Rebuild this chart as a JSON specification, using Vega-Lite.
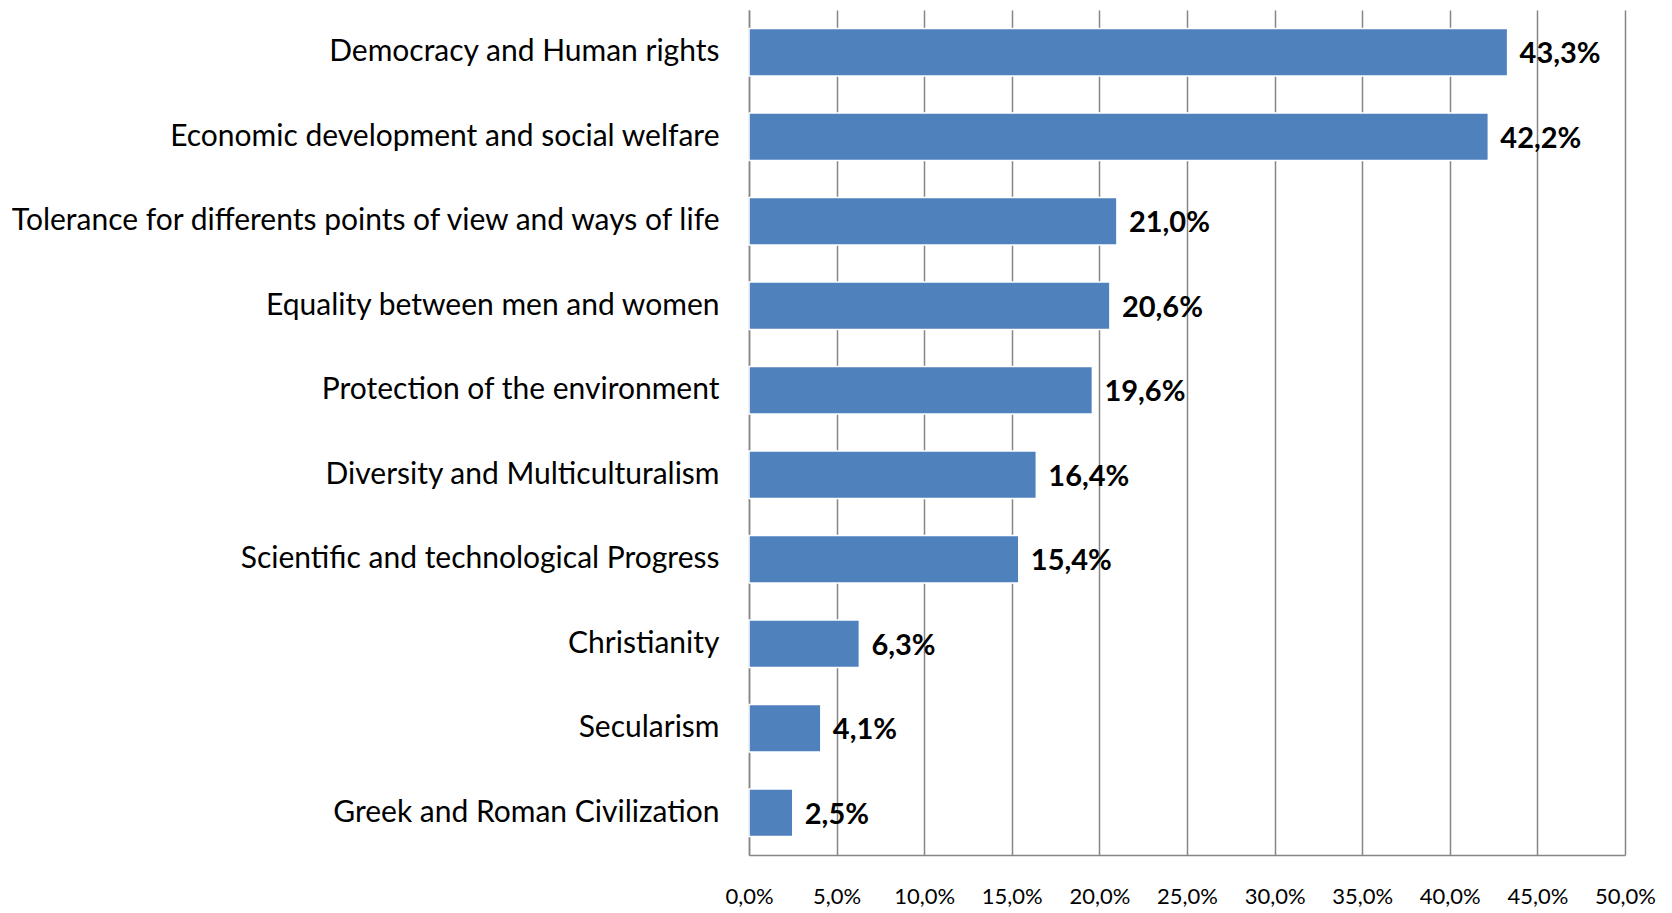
{
  "$schema": "https://vega.github.io/schema/vega-lite/v6.json",
  "width": 876,
  "height": 845,
  "autosize": {"type": "none"},
  "padding": {"left": 749, "top": 10, "right": 47, "bottom": 58},
  "background": "white",
  "config": {
    "locale": {"number": {"decimal": ",", "thousands": ".", "grouping": [3], "currency": ["", "€"]}},
    "view": {"stroke": null},
    "font": "Lato"
  },
  "data": {
    "values": [
      {"category": "Democracy and Human rights", "value": 0.433},
      {"category": "Economic development and social welfare", "value": 0.422},
      {"category": "Tolerance for differents points of view and ways of life", "value": 0.21},
      {"category": "Equality between men and women", "value": 0.206},
      {"category": "Protection of the environment", "value": 0.196},
      {"category": "Diversity and Multiculturalism", "value": 0.164},
      {"category": "Scientific and technological Progress", "value": 0.154},
      {"category": "Christianity", "value": 0.063},
      {"category": "Secularism", "value": 0.041},
      {"category": "Greek and Roman Civilization", "value": 0.025}
    ]
  },
  "encoding": {
    "y": {
      "field": "category",
      "type": "nominal",
      "sort": null,
      "scale": {"paddingInner": 0.44, "paddingOuter": 0.22},
      "axis": {
        "title": null,
        "domain": true,
        "domainColor": "#868686",
        "domainWidth": 1.5,
        "ticks": false,
        "labelPadding": 30,
        "labelLimit": 0,
        "labelFontSize": 30,
        "labelColor": "#000000",
        "labelFont": "Lato"
      }
    },
    "x": {
      "field": "value",
      "type": "quantitative",
      "scale": {"domain": [0, 0.5], "nice": false},
      "axis": {
        "title": null,
        "format": ".1%",
        "values": [0, 0.05, 0.1, 0.15, 0.2, 0.25, 0.3, 0.35, 0.4, 0.45, 0.5],
        "grid": true,
        "gridColor": "#868686",
        "gridWidth": 1.5,
        "domain": true,
        "domainColor": "#868686",
        "domainWidth": 1.5,
        "ticks": false,
        "labelPadding": 31,
        "labelFontSize": 22,
        "labelColor": "#000000",
        "labelFont": "Lato",
        "labelFlush": false
      }
    }
  },
  "layer": [
    {
      "mark": {"type": "bar", "color": "#4F81BD", "stroke": "#ffffff", "strokeWidth": 1.5}
    },
    {
      "mark": {"type": "text", "align": "left", "baseline": "middle", "dx": 12, "dy": 2, "fontSize": 29, "fontWeight": "bold", "color": "#000000", "font": "Lato"},
      "encoding": {
        "text": {"field": "value", "type": "quantitative", "format": ".1%"}
      }
    }
  ]
}
